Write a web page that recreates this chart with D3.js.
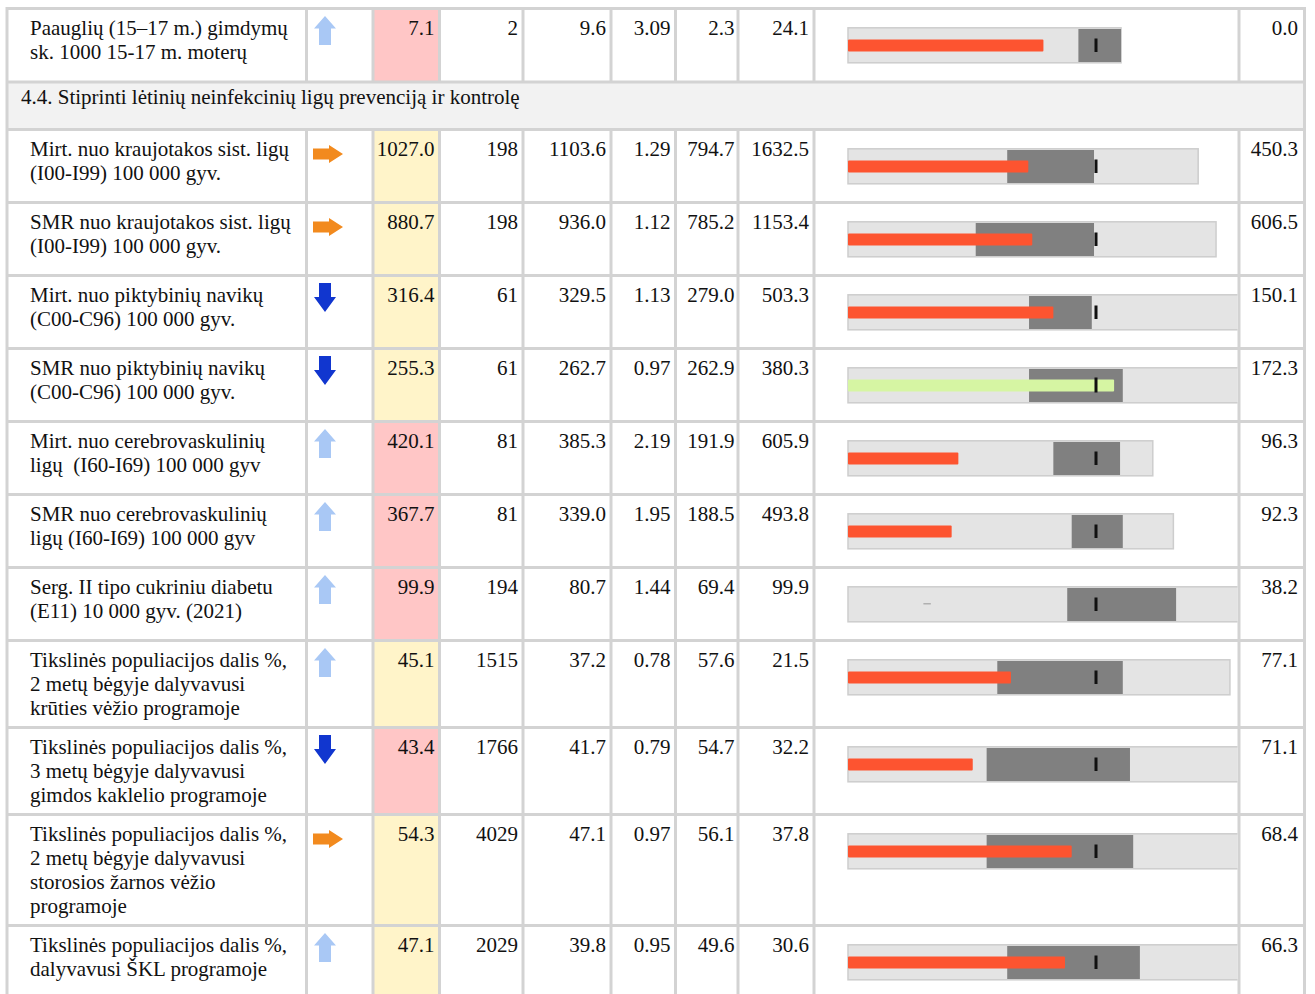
<!DOCTYPE html>
<html>
<head>
<meta charset="utf-8">
<script src="https://cdn.jsdelivr.net/npm/d3@7"></script>
<style>
  html, body { margin: 0; padding: 0; background: #ffffff; }
  svg text { font-family: "Liberation Serif", "Times New Roman", serif; font-size: 21px; fill: #111; white-space: pre; }
</style>
</head>
<body>
<svg id="chart" width="1315" height="994"></svg>
<script>
// ---------------- DATA ----------------
const sectionTitle = "4.4. Stiprinti lėtinių neinfekcinių ligų prevenciją ir kontrolę";

const firstLabel = ["Paauglių (15–17 m.) gimdymų", "sk. 1000 15-17 m. moterų"];

const labels = [
  ["Mirt. nuo kraujotakos sist. ligų", "(I00-I99) 100 000 gyv."],
  ["SMR nuo kraujotakos sist. ligų", "(I00-I99) 100 000 gyv."],
  ["Mirt. nuo piktybinių navikų", "(C00-C96) 100 000 gyv."],
  ["SMR nuo piktybinių navikų", "(C00-C96) 100 000 gyv."],
  ["Mirt. nuo cerebrovaskulinių", "ligų  (I60-I69) 100 000 gyv"],
  ["SMR nuo cerebrovaskulinių", "ligų (I60-I69) 100 000 gyv"],
  ["Serg. II tipo cukriniu diabetu", "(E11) 10 000 gyv. (2021)"],
  ["Tikslinės populiacijos dalis %,", "2 metų bėgyje dalyvavusi", "krūties vėžio programoje"],
  ["Tikslinės populiacijos dalis %,", "3 metų bėgyje dalyvavusi", "gimdos kaklelio programoje"],
  ["Tikslinės populiacijos dalis %,", "2 metų bėgyje dalyvavusi", "storosios žarnos vėžio", "programoje"],
  ["Tikslinės populiacijos dalis %,", "dalyvavusi ŠKL programoje"]
];

// first entry = the "Paauglių" row above the section header
const trend        = ["up", "right", "right", "down", "down", "up", "up", "up", "up", "down", "right", "up"];
const status       = ["bad", "mid", "mid", "mid", "mid", "bad", "bad", "bad", "mid", "bad", "mid", "mid"];
const munValue     = [7.1, 1027.0, 880.7, 316.4, 255.3, 420.1, 367.7, 99.9, 45.1, 43.4, 54.3, 47.1];
const caseCount    = [2, 198, 198, 61, 61, 81, 81, 194, 1515, 1766, 4029, 2029];
const ltValue      = [9.6, 1103.6, 936.0, 329.5, 262.7, 385.3, 339.0, 80.7, 37.2, 41.7, 47.1, 39.8];
const ratio        = [3.09, 1.29, 1.12, 1.13, 0.97, 2.19, 1.95, 1.44, 0.78, 0.79, 0.97, 0.95];
const worstValue   = [2.3, 794.7, 785.2, 279.0, 262.9, 191.9, 188.5, 69.4, 57.6, 54.7, 56.1, 49.6];
const bestValue    = [24.1, 1632.5, 1153.4, 503.3, 380.3, 605.9, 493.8, 99.9, 21.5, 32.2, 37.8, 30.6];
const lastValue    = [0.0, 450.3, 606.5, 150.1, 172.3, 96.3, 92.3, 38.2, 77.1, 71.1, 68.4, 66.3];

// bullet chart values, index where Lithuania = 100
const bulletMax    = [110.1, 141.2, 148.4, 160, 160, 122.9, 131.2, 160, 154, 160, 160, 160];
const rangeLow     = [92.9, 64.2, 51.5, 73.0, 73.0, 82.8, 90.2, 88.4, 60.2, 55.9, 55.9, 64.2];
const rangeHigh    = [110.1, 99.2, 99.2, 98.3, 110.8, 109.7, 110.8, 132.3, 110.8, 113.7, 115.0, 117.7];
const barValue     = [78.8, 72.7, 74.3, 82.8, 107.3, 44.5, 41.8, null, 65.7, 50.3, 90.2, 87.5];
const barGood      = [false, false, false, false, true, false, false, false, false, false, false, false];
const dashMark     = [null, null, null, null, null, null, null, [30.4, 33.4], null, null, null, null];
const ltIndex      = 100;

// ---------------- LAYOUT ----------------
const svg = d3.select("#chart");
const colEdges = [7, 306.5, 373, 439.5, 523, 611, 675.5, 738, 814, 1239, 1304.5];
const gridColor = "#d3d3d3";
const lineH = 24;

// rows: first data row, section row, then the labelled rows
const rows = [];
let y = 8.5;
rows.push({type: "data", i: 0, lines: firstLabel, top: y, h: 73.5});
y += 73.5;
rows.push({type: "section", top: y, h: 47.5});
y += 47.5;
labels.forEach((l, k) => {
  const h = l.length >= 3 ? lineH * l.length + 15 : 73;
  rows.push({type: "data", i: k + 1, lines: l, top: y, h: h});
  y += h;
});

const fmt1 = d3.format(".1f"), fmt2 = d3.format(".2f"), fmtI = d3.format("d");
const numCols = [
  {col: 2, vals: munValue, f: fmt1, pad: 5},
  {col: 3, vals: caseCount, f: fmtI, pad: 5},
  {col: 4, vals: ltValue, f: fmt1, pad: 5},
  {col: 5, vals: ratio, f: fmt2, pad: 5},
  {col: 6, vals: worstValue, f: fmt1, pad: 3.5},
  {col: 7, vals: bestValue, f: fmt1, pad: 5},
  {col: 9, vals: lastValue, f: fmt1, pad: 6.5}
];
const statusFill = {bad: "#ffc6c6", mid: "#fff4c9"};

// grid background
svg.append("rect")
  .attr("x", colEdges[0] - 1.5).attr("y", 7)
  .attr("width", colEdges[colEdges.length - 1] - colEdges[0] + 3)
  .attr("height", 994 - 7)
  .attr("fill", gridColor);

// bullet scale
const bx = d3.scaleLinear().domain([0, ltIndex]).range([848, 1096]);
const defs = svg.append("defs");
defs.append("clipPath").attr("id", "bclip")
  .append("rect").attr("x", colEdges[8] + 1).attr("y", 0)
  .attr("width", colEdges[9] - colEdges[8] - 2.5).attr("height", 994);

rows.forEach(r => {
  const g = svg.append("g");
  if (r.type === "section") {
    g.append("rect")
      .attr("x", colEdges[0] + 1.5).attr("y", r.top + 1.5)
      .attr("width", colEdges[10] - colEdges[0] - 3).attr("height", r.h - 3)
      .attr("fill", "#f2f2f2");
    g.append("text").attr("x", 21).attr("y", r.top + 22).text(sectionTitle);
    return;
  }
  const i = r.i;
  // cells
  for (let c = 0; c < colEdges.length - 1; c++) {
    g.append("rect")
      .attr("x", colEdges[c] + 1.5).attr("y", r.top + 1.5)
      .attr("width", colEdges[c + 1] - colEdges[c] - 3)
      .attr("height", r.h - 3)
      .attr("fill", c === 2 ? statusFill[status[i]] : "#ffffff");
  }
  // label
  const t = g.append("text").attr("x", 30).attr("y", r.top + 26.5);
  r.lines.forEach((ln, k) => {
    t.append("tspan").attr("x", 30).attr("y", r.top + 26.5 + k * lineH).text(ln);
  });
  // numbers
  numCols.forEach(nc => {
    g.append("text")
      .attr("x", colEdges[nc.col + 1] - nc.pad)
      .attr("y", r.top + 26.5)
      .attr("text-anchor", "end")
      .text(nc.f(nc.vals[i]));
  });
  // trend arrow
  const dir = trend[i];
  const cx = 325;
  let p;
  if (dir === "up") {
    const t0 = r.top + 7.5;
    p = `M${cx},${t0} L${cx + 11},${t0 + 12.5} L${cx + 6},${t0 + 12.5} L${cx + 6},${t0 + 29} L${cx - 6},${t0 + 29} L${cx - 6},${t0 + 12.5} L${cx - 11},${t0 + 12.5} Z`;
    g.append("path").attr("d", p).attr("fill", "#a9c8f5");
  } else if (dir === "down") {
    const t0 = r.top + 7.5;
    p = `M${cx - 6},${t0} L${cx + 6},${t0} L${cx + 6},${t0 + 14} L${cx + 11},${t0 + 14} L${cx},${t0 + 29} L${cx - 11},${t0 + 14} L${cx - 6},${t0 + 14} Z`;
    g.append("path").attr("d", p).attr("fill", "#1136cf");
  } else {
    const cy = r.top + 24.5, x0 = 313;
    p = `M${x0},${cy - 5.5} L${x0 + 16},${cy - 5.5} L${x0 + 16},${cy - 9} L${x0 + 30},${cy} L${x0 + 16},${cy + 9} L${x0 + 16},${cy + 5.5} L${x0},${cy + 5.5} Z`;
    g.append("path").attr("d", p).attr("fill", "#f28a1e");
  }
  // bullet chart
  const bg = g.append("g").attr("clip-path", "url(#bclip)");
  bg.append("rect")
    .attr("x", bx(0)).attr("y", r.top + 19.3)
    .attr("width", bx(bulletMax[i]) - bx(0)).attr("height", 35)
    .attr("fill", "#e4e4e4").attr("stroke", "#cdcdcd").attr("stroke-width", 1.5);
  bg.append("rect")
    .attr("x", bx(rangeLow[i])).attr("y", r.top + 20.5)
    .attr("width", bx(rangeHigh[i]) - bx(rangeLow[i])).attr("height", 33)
    .attr("fill", "#808080");
  if (barValue[i] !== null) {
    bg.append("rect")
      .attr("x", bx(0)).attr("y", r.top + 31)
      .attr("width", bx(barValue[i]) - bx(0)).attr("height", 12)
      .attr("rx", 1)
      .attr("fill", barGood[i] ? "#d6f5a3" : "#fd5430");
  }
  if (dashMark[i]) {
    bg.append("rect")
      .attr("x", bx(dashMark[i][0])).attr("y", r.top + 35.5)
      .attr("width", bx(dashMark[i][1]) - bx(dashMark[i][0])).attr("height", 1.5)
      .attr("fill", "#b0b0b0");
  }
  const mh = barGood[i] ? 15 : 13.5;
  bg.append("rect")
    .attr("x", bx(ltIndex) - 1.5).attr("y", r.top + (barGood[i] ? 29 : 30))
    .attr("width", 3).attr("height", mh)
    .attr("fill", "#111");
});
</script>
</body>
</html>
